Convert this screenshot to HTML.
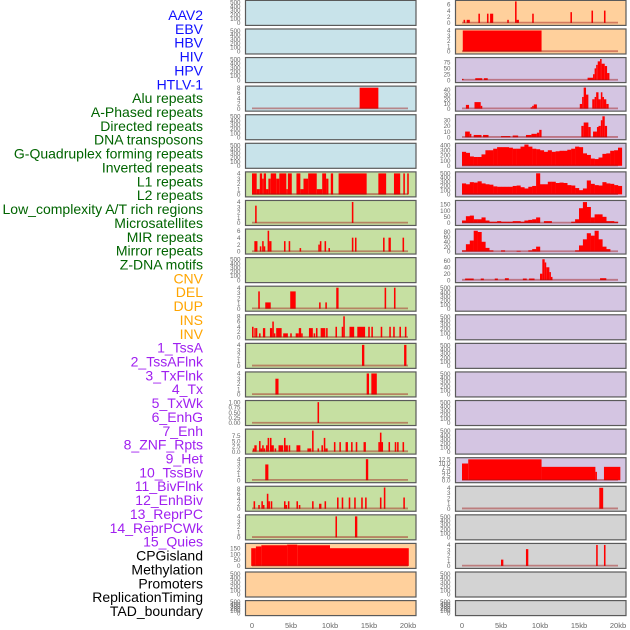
<!DOCTYPE html>
<html><head><meta charset="utf-8"><style>
html,body{margin:0;padding:0;background:#fff;}
svg{display:block;font-family:"Liberation Sans",sans-serif;}
</style></head><body>
<svg id="chart" width="630" height="630" viewBox="0 0 630 630" xmlns="http://www.w3.org/2000/svg"></svg>
<script>
// ---- data ----
const labelNames = ["AAV2","EBV","HBV","HIV","HPV","HTLV-1","Alu repeats","A-Phased repeats","Directed repeats","DNA transposons","G-Quadruplex forming repeats","Inverted repeats","L1 repeats","L2 repeats","Low_complexity A/T rich regions","Microsatellites","MIR repeats","Mirror repeats","Z-DNA motifs","CNV","DEL","DUP","INS","INV","1_TssA","2_TssAFlnk","3_TxFlnk","4_Tx","5_TxWk","6_EnhG","7_Enh","8_ZNF_Rpts","9_Het","10_TssBiv","11_BivFlnk","12_EnhBiv","13_ReprPC","14_ReprPCWk","15_Quies","CPGisland","Methylation","Promoters","ReplicationTiming","TAD_boundary"];
const labelGroups = [6,13,5,15,5];
const groupColors = ["#1010ff","#006400","#ffa500","#a020f0","#000000"];
const xTicks = [0,5,10,15,20];
const xTickLabels = ["0","5kb","10kb","15kb","20kb"];
const emptyTicks = [0,100,200,300,400,500];

const leftBg = ["#c8e3ea","#c8e3ea","#c8e3ea","#c8e3ea","#c8e3ea","#c8e3ea","#c6e0a2","#c6e0a2","#c6e0a2","#c6e0a2","#c6e0a2","#c6e0a2","#c6e0a2","#c6e0a2","#c6e0a2","#c6e0a2","#c6e0a2","#c6e0a2","#c6e0a2","#ffd09c","#ffd09c","#ffd09c"];
const rightBg = ["#ffd09c","#ffd09c","#d4c5e2","#d4c5e2","#d4c5e2","#d4c5e2","#d4c5e2","#d4c5e2","#d4c5e2","#d4c5e2","#d4c5e2","#d4c5e2","#d4c5e2","#d4c5e2","#d4c5e2","#d4c5e2","#d4c5e2","#d3d3d3","#d3d3d3","#d3d3d3","#d3d3d3","#d3d3d3"];

const L3 = [[13.8,16.2,8]];
const L6 = [[0,0.6,4],[0.6,1.0,1],[1.0,1.3,4],[1.3,1.5,3],[1.5,1.8,4],[1.8,2.1,1],[2.1,2.4,3],[2.4,3.1,4],[3.1,3.5,3],[3.5,4.4,4],[4.4,4.6,1],[4.6,5.1,4],[5.7,6.2,4],[6.2,6.6,1],[6.6,7.2,3],[7.2,8.3,4],[8.3,9.0,1],[9.0,9.5,4],[9.5,9.8,3],[10.1,10.4,4],[11.1,14.7,4],[16.2,17.2,4],[18.2,19.0,4],[19.4,19.6,4],[19.9,20.1,4]];
const L7 = [[0.4,0.6,3.3],[12.8,13.0,4]];
const L8 = [[0.3,0.7,3],[1.0,1.2,1.5],[1.3,1.5,3],[1.5,1.7,1.5],[2.0,2.2,6],[2.2,2.5,3],[4.1,4.3,3],[4.7,4.9,3],[6.1,6.3,1],[8.5,8.7,2],[8.7,8.9,3],[9.3,9.5,3],[9.8,10.0,1],[12.8,13.0,4],[13.2,13.4,4],[16.8,17.0,4],[17.5,17.8,4],[19.3,19.5,4]];
const L10 = [[0.8,1.0,3.3],[1.7,2.4,1.2],[4.9,5.6,3.3],[8.6,8.8,1.2],[9.4,9.6,1.2],[10.8,11.1,4],[17.0,17.2,4],[18.2,18.4,4]];
const L11 = [[0,0.2,4],[0.3,0.4,3.5],[0.5,0.6,3.5],[0.9,1.1,1.5],[1.4,1.7,3.5],[2.3,2.6,3.5],[2.6,2.8,6],[2.8,3.0,1.5],[3.1,3.8,3.5],[4.0,4.6,1.5],[4.9,5.1,1.5],[5.6,6.0,1.5],[6.0,6.3,3.5],[6.3,6.5,1.5],[7.3,7.8,3.5],[7.9,8.1,1.5],[8.2,8.4,3.5],[8.8,9.4,3.5],[9.5,9.7,3.5],[10.7,10.9,4],[11.5,11.7,4],[11.7,11.9,8],[12.5,13.1,4],[13.5,14.5,4],[14.9,15.1,4],[15.3,15.5,4],[16.5,16.7,4],[17.6,17.8,4],[18.1,18.3,4],[18.9,19.1,4],[19.6,19.8,4]];
const L12 = [[14.1,14.4,4],[19.5,19.8,4]];
const L13 = [[3.0,3.4,3],[14.7,15.0,4],[15.3,16.0,4]];
const L14 = [[8.4,8.6,1]];
const L15 = [[0.1,0.3,1.5],[0.3,0.6,3],[0.9,1.1,5],[1.1,1.3,1.5],[1.3,1.5,3],[1.5,1.7,1.5],[1.8,2.0,3],[2.0,2.2,6.5],[2.3,2.5,6.5],[2.5,2.8,3],[2.9,3.1,1.5],[3.4,4.0,3],[4.1,4.3,6.5],[4.3,4.6,3],[4.7,4.9,3],[5.7,6.2,3],[7.1,7.6,1.5],[7.7,7.9,10],[8.4,8.6,1.5],[8.9,9.1,3],[9.2,9.4,6.5],[9.4,9.7,1.5],[10.5,10.7,4.5],[11.2,11.4,4.5],[12.0,12.3,4.5],[12.7,12.9,4.5],[13.3,13.5,4.5],[14.3,14.6,4.5],[16.2,16.4,4.5],[16.4,16.6,9],[16.6,16.8,4.5],[17.5,17.7,4.5],[18.3,18.5,4.5],[18.6,18.8,4.5],[19.3,19.5,4.5]];
const L16 = [[1.7,2.1,3],[14.6,14.9,4]];
const L17 = [[0.2,0.4,3],[0.8,1.0,1.5],[1.2,1.4,3],[1.4,1.6,1.5],[1.9,2.1,6],[2.1,2.3,3],[2.4,2.6,3],[4.1,4.3,3],[4.3,4.5,1.5],[4.6,4.8,3],[5.7,5.9,3],[6.0,6.2,1.5],[7.7,7.9,3],[8.6,8.9,2],[9.3,9.5,3],[10.9,11.1,4.5],[11.5,11.7,4.5],[12.4,12.6,4.5],[13.1,13.3,4.5],[14.0,14.2,4.5],[14.5,14.7,4.5],[16.4,16.6,4.5],[16.9,17.1,8.5],[19.4,19.6,4.5]];
const L18 = [[10.7,10.9,4],[13.2,13.5,4]];
const L19 = [[-0.1,0.5,150],[0.5,1.2,165],[1.2,4.5,175],[4.5,5.8,180],[5.8,10.0,175],[10.0,20.1,150]];

const R0 = [[0.2,0.4,1],[0.6,1.0,1],[2.1,2.3,3],[3.2,3.4,3],[3.6,4.0,3],[5.8,6.0,1],[6.8,7.0,7],[7.0,7.3,1],[9.0,9.2,3],[13.9,14.1,3.5],[16.6,16.8,4],[18.2,18.4,4]];
const R1 = [[0.1,10.2,4]];
const R2 = [[0,0.2,5],[1.7,2.6,8],[2.8,3.3,8],[16.1,16.8,10],[16.8,17.0,25],[17.0,17.2,50],[17.2,17.4,65],[17.4,17.7,80],[17.7,17.9,90],[17.9,18.3,70],[18.3,18.6,60],[18.6,18.9,30]];
const R3 = [[0.5,0.9,8],[1.6,2.4,14],[2.4,2.6,6],[8.8,9.0,3],[9.0,9.2,6],[9.2,9.6,9],[15.1,15.4,10],[15.4,15.6,25],[15.6,15.9,45],[15.9,16.2,30],[16.7,17.0,20],[17.0,17.2,25],[17.2,17.5,35],[17.5,17.8,20],[17.8,18.0,35],[18.0,18.2,25],[18.2,18.5,20],[18.5,18.8,10]];
const R4 = [[0.4,1.0,10],[1.0,1.2,6],[1.5,2.5,4],[2.7,3.4,4],[5.0,6.2,2],[6.5,7.2,3],[8.2,8.9,4],[8.9,9.6,6],[9.6,9.9,8],[9.9,10.2,13],[15.3,15.6,20],[15.6,16.2,26],[16.2,16.5,18],[16.8,17.3,10],[17.3,17.5,18],[17.5,17.8,20],[17.8,18.0,30],[18.0,18.3,37],[18.3,18.6,20]];
const R5bins = [270,250,180,170,170,220,300,300,330,360,360,360,350,330,330,370,410,370,330,320,300,270,300,270,280,290,290,310,330,370,360,240,210,140,130,160,230,240,290,300,350];
const R6bins = [260,240,290,280,310,260,240,230,190,180,180,180,180,200,210,170,140,180,200,500,240,240,300,300,270,280,270,220,210,150,100,140,330,250,220,210,290,260,250,220,200];
const R7bins = [20,55,60,30,30,45,20,10,10,15,10,10,10,15,15,10,20,25,30,45,0,15,15,0,0,0,0,0,10,30,120,170,130,45,70,70,50,15,15,10,0];
const R8bins = [5,30,45,85,80,40,15,5,0,0,5,0,0,0,3,0,0,5,10,20,0,0,0,0,0,0,0,0,0,5,25,50,75,65,85,50,20,10,0,0,0];
const R9 = [[0.4,1.5,5],[2.4,2.8,5],[4.2,4.6,5],[5.5,6.0,6],[7.8,8.3,5],[8.6,9.3,5],[10.0,10.3,20],[10.3,10.6,65],[10.6,10.8,55],[10.8,11.2,40],[11.2,11.4,25],[11.4,11.6,10],[17.7,18.5,6]];
const R16 = [[0,0.8,10],[0.8,10.2,12.5],[10.2,17.1,8],[17.1,17.3,5],[18.2,20.3,8]];
const R17 = [[17.6,18.1,4]];
const R19 = [[5.0,5.3,1.2],[8.2,8.5,3.2],[17.2,17.4,4],[18.2,18.4,4]];

const leftTracks = [null,null,null,[L3,8.2,[0,2,4,6,8]],null,null,[L6,4.1,[0,1,2,3,4]],[L7,4.1,[0,1,2,3,4]],[L8,6.2,[0,2,4,6]],null,[L10,4.1,[0,1,2,3,4]],[L11,8.2,[0,2,4,6,8]],[L12,4.1,[0,1,2,3,4]],[L13,4.1,[0,1,2,3,4]],[L14,1.03,[0,0.25,0.5,0.75,1],["0.00","0.25","0.50","0.75","1.00"]],[L15,10.2,[0,2.5,5,7.5],["0.0","2.5","5.0","7.5"]],[L16,4.1,[0,1,2,3,4]],[L17,8.6,[0,2,4,6,8]],[L18,4.1,[0,1,2,3,4]],[L19,182,[0,50,100,150]],null,null];
const rightTracks = [[R0,7.0,[0,2,4,6]],[R1,4.1,[0,1,2,3,4]],[R2,92,[0,25,50,75]],[R3,46,[0,10,20,30,40]],[R4,38,[0,10,20,30]],[R5bins,415,[0,100,200,300,400]],[R6bins,510,[0,100,200,300,400,500]],[R7bins,175,[0,50,100,150]],[R8bins,88,[0,20,40,60,80]],[R9,67,[0,20,40,60]],null,null,null,null,null,null,[R16,12.9,[0,2.5,5,7.5,10,12.5],["0.0","2.5","5.0","7.5","10.0","12.5"]],[R17,4.1,[0,1,2,3,4]],null,[R19,4.1,[0,1,2,3,4]],null,null];

// ---- drawing ----
const NS = "http://www.w3.org/2000/svg";
const svg = document.getElementById('chart');
function mk(tag, attrs, parent){ const e=document.createElementNS(NS,tag); for(const k in attrs) e.setAttribute(k,attrs[k]); (parent||svg).appendChild(e); return e; }

let li=0;
const labelsG = mk('g',{});


labelGroups.forEach((n,gi)=>{
  for(let k=0;k<n && li<labelNames.length;k++,li++){
    const t = mk('text',{x:203,y:(15+li*13.86+5).toFixed(1),'text-anchor':'end','font-size':'14',fill:groupColors[gi]},labelsG);
    t.textContent = labelNames[li];
    
    
  }
});

function rowTop(i){ return 0.4 + i*28.58; }
function drawPanel(col, i, spec, bg){
  const x0 = col===0 ? 245.5 : 455.5;
  const w = 170.5;
  const top = rowTop(i);
  const h = i===21 ? 15 : 25;
  const xs = kb => (col===0?252:462) + kb*7.8;
  const g = mk('g',{});
  
  
  const rect = mk('rect',{x:x0,y:top,width:w,height:h,fill:bg,stroke:'#5a5a5a','stroke-width':1.2},g);
  
  
  const yBot = top+h-2.5, yTop = top+1;
  let ymax, ticks, tlabels;
  if(spec){ ymax=spec[1]; ticks=spec[2]; tlabels=spec[3]; } else { ymax=520; ticks=emptyTicks; }
  const ys = v => yBot - (v/ymax)*(yBot-yTop);
  ticks.forEach((tv,ti)=>{
    const t = mk('text',{x:x0-5,y:(ys(tv)+2.2).toFixed(1),'text-anchor':'end','font-size':'6.2',fill:'#666'},g);
    t.textContent = tlabels ? tlabels[ti] : String(tv);
    
    
  });
  if(spec){
    const d = spec[0];
    if(typeof d[0]==='number'){
      d.forEach((v,bi)=>{
        if(v<=0) return;
        const r = mk('rect',{x:xs(bi*0.5).toFixed(2),y:ys(v).toFixed(2),width:(0.5*7.8+0.2).toFixed(2),height:(yBot-ys(v)).toFixed(2),fill:'#ff0000'},g);
        
        
      });
    } else {
      d.forEach(s=>{
        const r = mk('rect',{x:xs(s[0]).toFixed(2),y:ys(s[2]).toFixed(2),width:Math.max(1.4,(s[1]-s[0])*7.8).toFixed(2),height:(yBot-ys(s[2])).toFixed(2),fill:'#ff0000'},g);
        
        
      });
    }
    const bl = mk('line',{x1:xs(0),x2:xs(20),y1:yBot-0.3,y2:yBot-0.3,stroke:'rgba(160,20,20,0.45)','stroke-width':1.8},g);
    
    
  }
}
for(let i=0;i<22;i++){ drawPanel(0,i,leftTracks[i],leftBg[i]); drawPanel(1,i,rightTracks[i],rightBg[i]); }

[0,1].forEach(col=>{
  const g = mk('g',{});
  
  
  xTicks.forEach((kb,ti)=>{
    const t = mk('text',{x:((col===0?252:462)+kb*7.8).toFixed(1),y:628,'text-anchor':'middle','font-size':'7.5',fill:'#666'},g);
    t.textContent = xTickLabels[ti];
    
    
  });
});
</script>
</body></html>
